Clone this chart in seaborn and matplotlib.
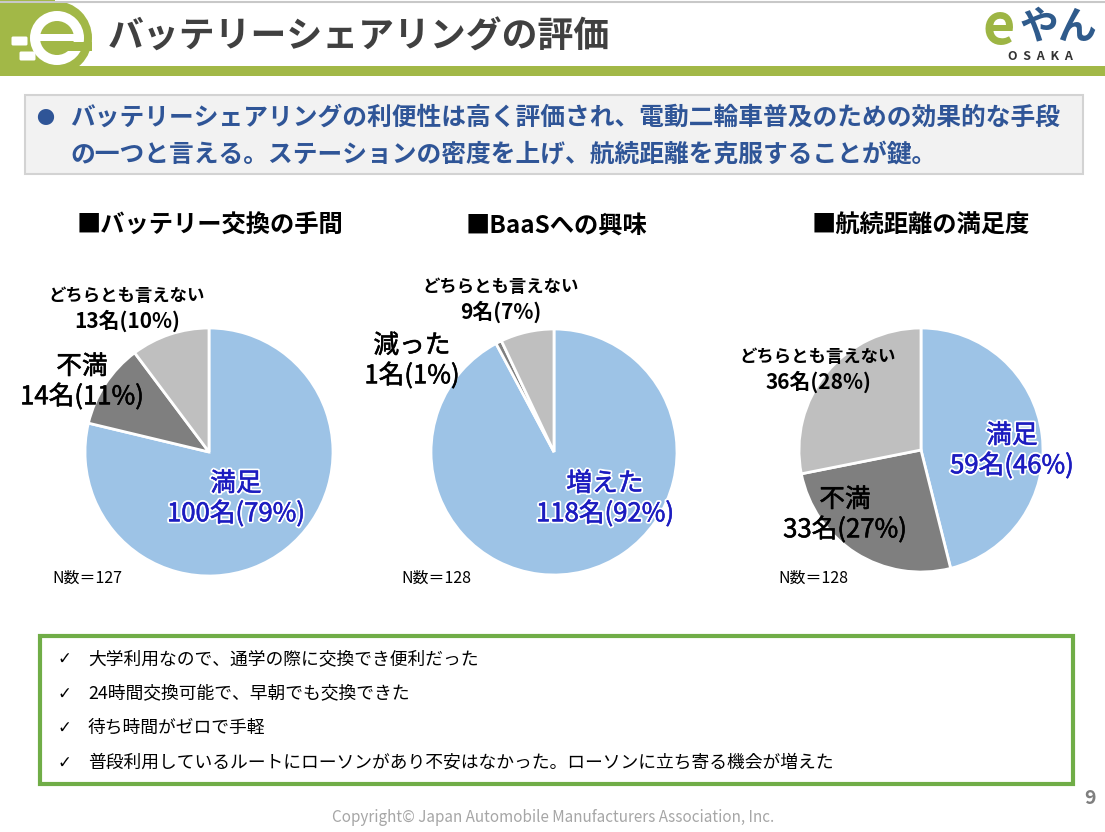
import matplotlib
matplotlib.use("Agg")
import matplotlib.pyplot as plt
import matplotlib.patches as mpatches
import matplotlib.patheffects as pe
import seaborn as sns

# ---------------- data ----------------
title = "バッテリーシェアリングの評価"
summary_lines = ["バッテリーシェアリングの利便性は高く評価され、電動二輪車普及のための効果的な手段",
                 "の一つと言える。ステーションの密度を上げ、航続距離を克服することが鍵。"]

chart_titles = ["■バッテリー交換の手間", "■BaaSへの興味", "■航続距離の満足度"]

cats1 = ["満足", "不満", "どちらとも言えない"]
counts1 = [100, 14, 13]
pcts1 = [79, 11, 10]
n1 = 127

cats2 = ["増えた", "減った", "どちらとも言えない"]
counts2 = [118, 1, 9]
pcts2 = [92, 1, 7]
n2 = 128

cats3 = ["満足", "不満", "どちらとも言えない"]
counts3 = [59, 33, 36]
pcts3 = [46, 27, 28]
n3 = 128

comments = ["大学利用なので、通学の際に交換でき便利だった",
            "24時間交換可能で、早朝でも交換できた",
            "待ち時間がゼロで手軽",
            "普段利用しているルートにローソンがあり不安はなかった。ローソンに立ち寄る機会が増えた"]

copyright_text = "Copyright© Japan Automobile Manufacturers Association, Inc."
page_no = "9"

# ---------------- style ----------------
sns.set_theme(style="white")
plt.rcParams["font.family"] = ["Noto Sans CJK JP", "DejaVu Sans"]

W, H = 1105, 832
fig = plt.figure(figsize=(W / 100, H / 100), dpi=100)
fig.patch.set_facecolor("white")

pie_colors = sns.color_palette(["#9DC3E6", "#7F7F7F", "#BFBFBF"])
GREEN = "#A2B847"
BLUE_TXT = "#1C1CC0"


def T(x, y, s, **kw):
    kw.setdefault("va", "center")
    kw.setdefault("ha", "center")
    return fig.text(x / W, 1 - y / H, s, **kw)


# background axes in pixel coordinates
bg = fig.add_axes([0, 0, 1, 1], zorder=0)
bg.set_xlim(0, W)
bg.set_ylim(H, 0)
bg.axis("off")

# header
bg.plot([0, W], [2, 2], color="#C8C8C8", lw=1.5)
bg.add_patch(mpatches.Rectangle((0, 66), W, 10, color=GREEN, lw=0))
# left logo
bg.add_patch(mpatches.Rectangle((0, 0), 55, 76, color=GREEN, lw=0))
bg.add_patch(mpatches.Circle((55, 38), 37, color=GREEN, lw=0))
bg.add_patch(mpatches.Circle((57, 38), 27, color="white", lw=0))
bg.add_patch(mpatches.Circle((57, 38), 17, color=GREEN, lw=0))
bg.add_patch(mpatches.Rectangle((40, 34), 34, 7, color="white", lw=0))
bg.add_patch(mpatches.Rectangle((62, 42), 30, 9, color=GREEN, lw=0))
bg.add_patch(mpatches.FancyBboxPatch((13, 38), 13, 6, boxstyle="round,pad=1.5", color="white", lw=0))
bg.add_patch(mpatches.FancyBboxPatch((21, 53), 13, 6, boxstyle="round,pad=1.5", color="white", lw=0))

# bullet box
bg.add_patch(mpatches.Rectangle((25, 95), 1058, 79, facecolor="#F2F2F2", edgecolor="#D3D3D3", lw=1.5))
# comment box
bg.add_patch(mpatches.Rectangle((40, 636), 1033, 148, facecolor="none", edgecolor="#70AD47", lw=3))

# title
T(108, 37, title, ha="left", fontsize=25.8, fontweight="bold", color="#404040")

# right logo
T(999, 28, "e", fontsize=40, fontweight="bold", color="#9DB544")
T(1058, 27, "やん", fontsize=28, fontweight="bold", color="#2F5B8C")
T(1040, 57, "O  S  A  K  A", fontsize=9, fontweight="bold", color="#333333")

# summary
T(45, 119, "●", ha="center", fontsize=13, color="#2F5597")
for i, line in enumerate(summary_lines):
    T(70, 118 + i * 37, line, ha="left", fontsize=17.8, fontweight="bold", color="#2F5597")

# ---------------- pies ----------------
pies = [
    (209, 452, 124, counts1, cats1, pcts1, n1),
    (554, 452, 123, counts2, cats2, pcts2, n2),
    (921, 450, 122, counts3, cats3, pcts3, n3),
]
for cx, cy, r, counts, cats, pcts, n in pies:
    ax = fig.add_axes([(cx - r) / W, (H - cy - r) / H, 2 * r / W, 2 * r / H], zorder=1)
    ax.pie(counts, colors=pie_colors, startangle=90, counterclock=False,
           wedgeprops=dict(edgecolor="white", linewidth=2))
    ax.set_xlim(-1, 1)
    ax.set_ylim(-1, 1)
    ax.axis("off")

# chart titles
for x, t in zip([210, 556, 921], chart_titles):
    T(x, 226, t, fontsize=17.5, fontweight="bold", color="black")


def big_label(x, y, cat, cnt, pct, color="black"):
    effects = []
    if color != "black":
        effects.append(pe.Stroke(linewidth=3, foreground="white"))
    effects += [pe.Stroke(linewidth=0.4, foreground=color), pe.Normal()]
    kw = dict(fontsize=18.5, color=color, path_effects=effects)
    T(x, y, cat, **kw)
    T(x, y + 30, f"{cnt}名({pct}%)", **kw)


def small_label(x, y, cat, cnt, pct):
    T(x, y, cat, fontsize=12.5, fontweight="bold", color="black")
    T(x, y + 25, f"{cnt}名({pct}%)", fontsize=15, fontweight="bold", color="black")


# pie 1 labels
small_label(127, 296, cats1[2], counts1[2], pcts1[2])
big_label(82, 367, cats1[1], counts1[1], pcts1[1])
big_label(236, 484, cats1[0], counts1[0], pcts1[0], BLUE_TXT)
# pie 2 labels
small_label(501, 287, cats2[2], counts2[2], pcts2[2])
big_label(412, 346, cats2[1], counts2[1], pcts2[1])
big_label(605, 484, cats2[0], counts2[0], pcts2[0], BLUE_TXT)
# pie 3 labels
small_label(818, 357, cats3[2], counts3[2], pcts3[2])
big_label(1012, 436, cats3[0], counts3[0], pcts3[0], BLUE_TXT)
big_label(845, 500, cats3[1], counts3[1], pcts3[1])

# N labels
for x, n in zip([52, 401, 778], [n1, n2, n3]):
    T(x, 578, f"N数＝{n}", ha="left", fontsize=11.5, color="black")

# comments
for i, c in enumerate(comments):
    y = 659 + i * 34.5
    T(57, y, "✓", ha="left", fontsize=12, color="black", family=["DejaVu Sans"])
    T(88, y, c, ha="left", fontsize=12.8, color="black")

# footer
T(553, 818, copyright_text, fontsize=11, color="#A6A6A6")
T(1090, 798, page_no, fontsize=14, fontweight="bold", color="#7F7F7F")

fig.savefig("out.png", dpi=100, facecolor="white")
